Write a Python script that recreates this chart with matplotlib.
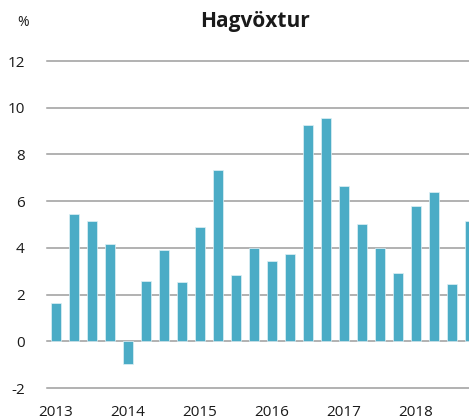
import numpy as np
import matplotlib
matplotlib.use('Agg')
import matplotlib.pyplot as plt

plt.rcParams['font.family'] = ['Open Sans', 'DejaVu Sans']

# Hagvöxtur, ársfjórðungar 2013-2018
years = ['2013', '2014', '2015', '2016', '2017', '2018']
growth = [1.65, 5.43, 5.17, 4.16,
          -0.99, 2.6, 3.89, 2.55,
          4.91, 7.35, 2.82, 4.0,
          3.43, 3.72, 9.27, 9.56,
          6.65, 5.04, 4.0, 2.94,
          5.8, 6.41, 2.46, 5.17]
yticks = [-2, 0, 2, 4, 6, 8, 10, 12]

fig = plt.figure(figsize=(4.69, 4.2), dpi=100)
ax = fig.add_axes([47 / 469, 1 - 388 / 420, 422 / 469, (388 - 61) / 420])

x = np.arange(len(growth))
ax.bar(x, growth, width=0.56, color='#4bacc6', edgecolor='#dff1f6', linewidth=0.5, zorder=3)

ax.set_xlim(-0.5, 22.94)
ax.set_ylim(-2, 12)
ax.set_yticks(yticks)
ax.set_yticklabels([str(v) for v in yticks], fontsize=11)
ax.set_xticks(np.arange(0, len(growth), 4))
ax.set_xticklabels(years, fontsize=11)
ax.tick_params(axis='both', length=0, colors='#1a1a1a')
ax.tick_params(axis='x', pad=12)
ax.tick_params(axis='y', pad=16)

ax.grid(axis='y', color='#9c9c9c', linewidth=1.1, zorder=0)
for line in ax.get_ygridlines():
    line.set_clip_on(False)
for s in ax.spines.values():
    s.set_visible(False)

fig.text(255 / 469, 1 - 22 / 420, 'Hagvöxtur', ha='center', va='center',
         fontsize=15, fontweight='bold', color='#1a1a1a')
fig.text(23 / 469, 1 - 23 / 420, '%', ha='center', va='center', fontsize=10, color='#1a1a1a')

fig.savefig('out.png', dpi=100)
